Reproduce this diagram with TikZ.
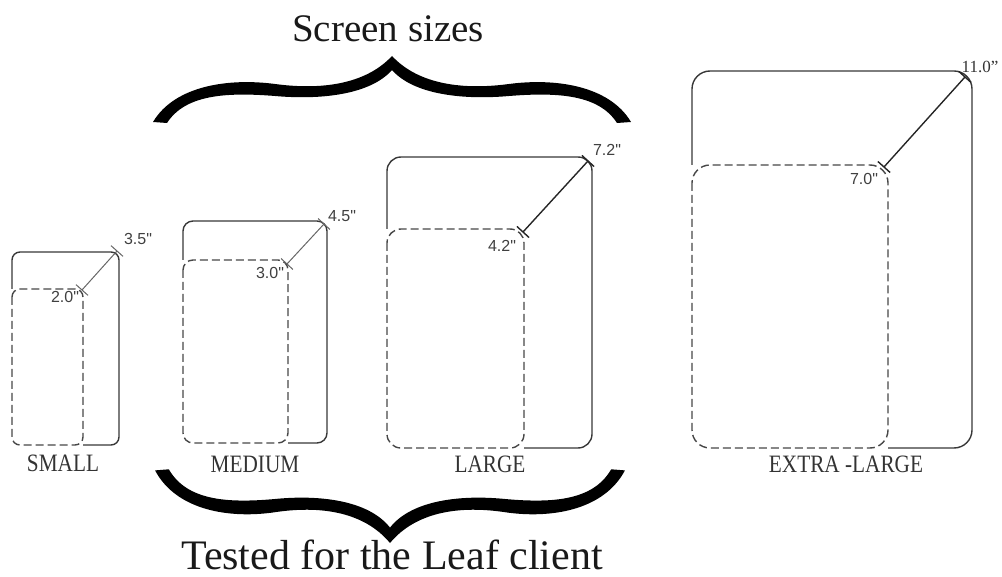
\documentclass[tikz,border=0pt]{standalone}
\usepackage{fontspec}
\setmainfont{Liberation Serif}
\newfontfamily\dimfont{Liberation Sans}

% one calligraphic brace, cusp at the origin, arms pointing +y
\newcommand{\curlyshape}{%
  (-239,66) .. controls (-217,29) and (-162,22) .. (-117,28)
            .. controls (-72,34) and (-27,29) .. (0,0)
            .. controls (27,29) and (72,34) .. (117,28)
            .. controls (162,22) and (217,29) .. (239,66)
  -- (225,67) .. controls (207,39) and (167,36) .. (117,40)
              .. controls (72,44) and (22,39) .. (0,14)
              .. controls (-22,39) and (-72,44) .. (-117,40)
              .. controls (-167,36) and (-207,39) .. (-225,67) -- cycle}

% diagonal measure line with a perpendicular tick at each end
\newcommand{\measure}[3]{%
  \draw[#1] (#2) -- (#3)
    node[tickmark, pos=0] (#2-t) {}
    node[tickmark, pos=1] (#3-t) {};
  \draw[#1] (#2-t.north) -- (#2-t.south);
  \draw[#1] (#3-t.north) -- (#3-t.south);}

\tikzset{
  outline/.style={draw=black!78, line width=1.4pt},
  screenbox/.style={draw=black!72, line width=1.4pt, dash pattern=on 8pt off 4pt},
  diagthin/.style={draw=black!60, line width=1pt},
  diagthick/.style={draw=black!85, line width=1.4pt},
  tickmark/.style={sloped, draw=none, inner sep=0pt, minimum width=0pt, minimum height=15pt},
  dimlabel/.style={font=\dimfont\fontsize{16}{18}\selectfont, text=black!75, inner sep=0pt},
  bigdim/.style={font=\fontsize{17}{19}\selectfont, text=black!80, inner sep=0pt},
  sizelabel/.style={font=\fontsize{25}{28}\selectfont, text=black!80, xscale=0.85,
    inner sep=0pt, anchor=base},
  heading/.style={inner sep=0pt, anchor=base, text=black!90},
  bracefill/.style={fill=black}
}

\begin{document}
\begin{tikzpicture}[x=1pt, y=-1pt]
\useasboundingbox (0,0) rectangle (1002,577);

% ---- headings and braces
\node[heading, font=\fontsize{39}{44}\selectfont] (title) at (388,42) {Screen sizes};
\fill[bracefill, shift={(392,56)}] \curlyshape;
\fill[bracefill, shift={(390,543)}, xscale=0.983, yscale=-1.1] \curlyshape;
\node[heading, font=\fontsize{42}{47}\selectfont] (tested) at (392,569) {Tested for the Leaf client};

% ---- small
\draw[outline, rounded corners=8] (12,289) -- (12,252) -- (119,252) -- (119,445) -- (83,445);
\draw[screenbox, rounded corners=8] (12,289) rectangle (83,445);
\coordinate (s-out) at (117,251);
\coordinate (s-in) at (82,290);
\measure{diagthin}{s-out}{s-in}
\node[dimlabel] (s-big) at (138,239) {3.5"};
\node[dimlabel] (s-small) at (65,297) {2.0"};
\node[sizelabel] (s-name) at (63,471) {SMALL};

% ---- medium
\draw[outline, rounded corners=10] (183,260) -- (183,221) -- (327,221) -- (327,443) -- (288,443);
\draw[screenbox, rounded corners=10] (183,260) rectangle (288,443);
\coordinate (m-out) at (324,224);
\coordinate (m-in) at (287,264);
\measure{diagthin}{m-out}{m-in}
\node[dimlabel] (m-big) at (342,216) {4.5"};
\node[dimlabel] (m-small) at (270,273) {3.0"};
\node[sizelabel] (m-name) at (255,472) {MEDIUM};

% ---- large
\draw[outline, rounded corners=14] (387,229) -- (387,157) -- (592,157) -- (592,448) -- (524,448);
\draw[screenbox, rounded corners=14] (387,229) rectangle (524,448);
\coordinate (l-out) at (588,161);
\coordinate (l-in) at (523,232);
\measure{diagthick}{l-out}{l-in}
\node[dimlabel] (l-big) at (607,150) {7.2"};
\node[dimlabel] (l-small) at (502,246) {4.2"};
\node[sizelabel] (l-name) at (490,472) {LARGE};

% ---- extra large
\draw[outline, rounded corners=18] (692,165) -- (692,71) -- (972,71) -- (972,448) -- (888,448);
\draw[screenbox, rounded corners=18] (692,165) rectangle (888,448);
\coordinate (x-out) at (965,77);
\coordinate (x-in) at (884,167);
\measure{diagthick}{x-out}{x-in}
\node[bigdim] (x-big) at (980,67) {11.0”};
\node[dimlabel] (x-small) at (864,179) {7.0"};
\node[sizelabel] (x-name) at (846,472) {EXTRA -LARGE};
\end{tikzpicture}
\end{document}
